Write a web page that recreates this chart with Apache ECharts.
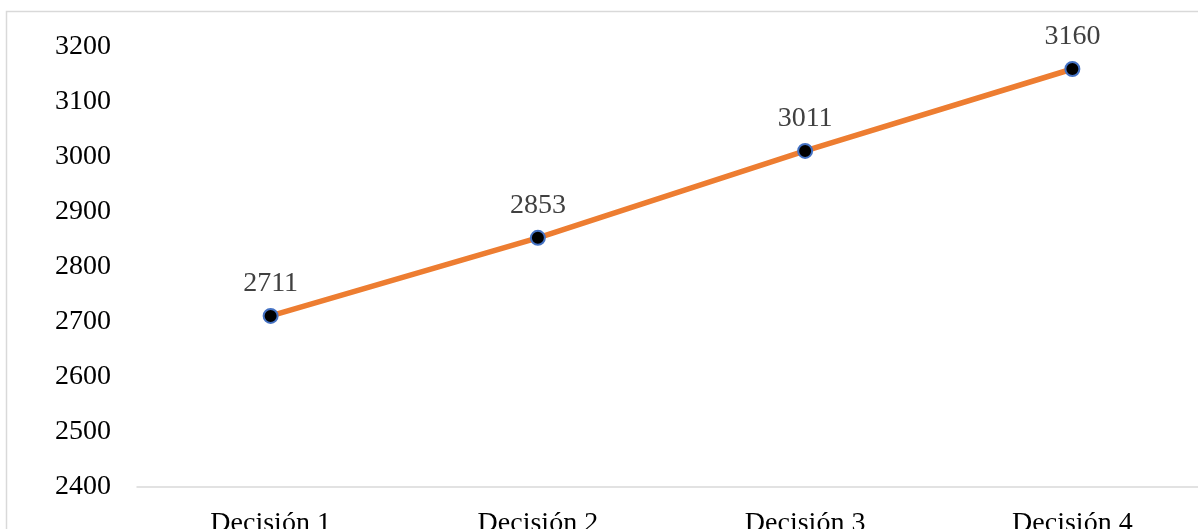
<!DOCTYPE html>
<html>
<head>
<meta charset="utf-8">
<script src="https://cdn.jsdelivr.net/npm/echarts@6/dist/echarts.min.js"></script>
<style>
html,body{margin:0;padding:0;background:#fff;}
#c{width:1198px;height:529px;}
</style>
</head>
<body>
<div id="c"></div>
<script>
const categories = ['Decisión 1', 'Decisión 2', 'Decisión 3', 'Decisión 4'];
const values = [2711, 2853, 3011, 3160];
const yMin = 2400;
const yMax = 3200;
const yStep = 100;

const chart = echarts.init(document.getElementById('c'), null, {renderer: 'canvas'});
const font = '"Liberation Serif", "Times New Roman", serif';
chart.setOption({
  animation: false,
  backgroundColor: '#fff',
  graphic: [{
    type: 'rect',
    shape: {x: 6.5, y: 11.5, width: 1220, height: 560},
    style: {fill: 'none', stroke: '#d9d9d9', lineWidth: 1.5},
    z: 0
  }],
  grid: {left: 137, top: 47, width: 1069, height: 440, containLabel: false, outerBoundsMode: 'none'},
  xAxis: {
    type: 'category',
    data: categories,
    boundaryGap: true,
    axisLine: {show: true, lineStyle: {color: '#d9d9d9', width: 1.5}},
    axisTick: {show: false},
    axisLabel: {color: '#000', fontFamily: font, fontSize: 28, margin: 23}
  },
  yAxis: {
    type: 'value',
    min: yMin, max: yMax, interval: yStep,
    axisLine: {show: false},
    axisTick: {show: false},
    splitLine: {show: false},
    axisLabel: {color: '#000', fontFamily: font, fontSize: 28, margin: 26, formatter: v => String(v)}
  },
  series: [{
    type: 'line',
    data: values,
    symbol: 'circle',
    symbolSize: 14,
    lineStyle: {color: '#ED7D31', width: 5.5},
    itemStyle: {color: '#000', borderColor: '#4472C4', borderWidth: 2},
    label: {show: true, position: 'top', distance: 10, color: '#404040', fontFamily: font, fontSize: 28}
  }]
});
</script>
</body>
</html>
